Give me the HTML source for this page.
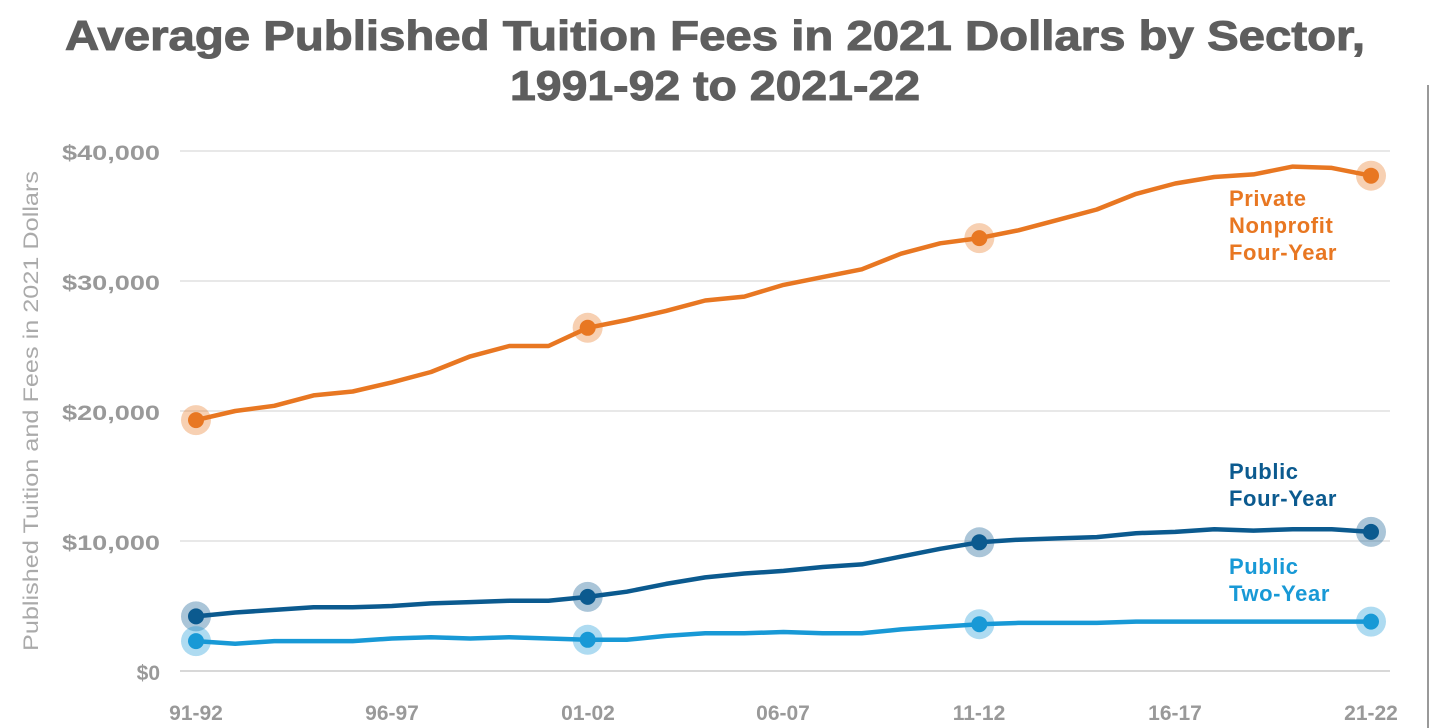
<!DOCTYPE html>
<html><head><meta charset="utf-8"><style>
html,body{margin:0;padding:0;background:#fff;width:1430px;height:728px;overflow:hidden}
svg{display:block;font-family:"Liberation Sans",sans-serif}
</style></head><body>
<svg id="c" width="1430" height="728" viewBox="0 0 1430 728">
<text x="65" y="50" textLength="1300" lengthAdjust="spacingAndGlyphs" font-size="42" font-weight="bold" fill="#5e5e5e" stroke="#5e5e5e" stroke-width="1">Average Published Tuition Fees in 2021 Dollars by Sector,</text>
<text x="510" y="100" textLength="410" lengthAdjust="spacingAndGlyphs" font-size="42" font-weight="bold" fill="#5e5e5e" stroke="#5e5e5e" stroke-width="1">1991-92 to 2021-22</text>
<g stroke="#e8e8e8" stroke-width="2">
<line x1="180" x2="1390" y1="151" y2="151"/><line x1="180" x2="1390" y1="281" y2="281"/>
<line x1="180" x2="1390" y1="411" y2="411"/><line x1="180" x2="1390" y1="541" y2="541"/>
</g>
<line x1="180" x2="1390" y1="671" y2="671" stroke="#d8d8d8" stroke-width="2"/>
<line x1="1428" x2="1428" y1="85" y2="728" stroke="#999" stroke-width="2"/>
<g font-size="21" font-weight="bold" fill="#999">
<text x="62" y="160" textLength="98" lengthAdjust="spacingAndGlyphs">$40,000</text>
<text x="62" y="290" textLength="98" lengthAdjust="spacingAndGlyphs">$30,000</text>
<text x="62" y="420" textLength="98" lengthAdjust="spacingAndGlyphs">$20,000</text>
<text x="62" y="550" textLength="98" lengthAdjust="spacingAndGlyphs">$10,000</text>
<text x="160" y="680" text-anchor="end">$0</text>
</g>
<g font-size="21" font-weight="bold" fill="#999" text-anchor="middle">
<text x="196" y="720">91-92</text><text x="392" y="720">96-97</text><text x="588" y="720">01-02</text><text x="783" y="720">06-07</text><text x="979" y="720">11-12</text><text x="1175" y="720">16-17</text><text x="1371" y="720">21-22</text>
</g>
<text transform="translate(38,411) rotate(-90)" x="-240" y="0" textLength="480" lengthAdjust="spacingAndGlyphs" font-size="21" fill="#aaa">Published Tuition and Fees in 2021 Dollars</text>
<g font-size="22" font-weight="bold" letter-spacing="0.6">
<text x="1229" y="206" fill="#e87722">Private</text><text x="1229" y="233" fill="#e87722">Nonprofit</text><text x="1229" y="260" fill="#e87722">Four-Year</text>
<text x="1229" y="479" fill="#0b5a8f">Public</text><text x="1229" y="506" fill="#0b5a8f">Four-Year</text>
<text x="1229" y="574" fill="#1899d6">Public</text><text x="1229" y="601" fill="#1899d6">Two-Year</text>
</g>
<g id="s"></g>
</svg>
<script>
var P=[19300,20000,20400,21200,21500,22200,23000,24200,25000,25000,26400,27000,27700,28500,28800,29700,30300,30900,32100,32900,33300,33900,34700,35500,36700,37500,38000,38200,38800,38700,38100];
var F=[4200,4500,4700,4900,4900,5000,5200,5300,5400,5400,5700,6100,6700,7200,7500,7700,8000,8200,8800,9400,9900,10100,10200,10300,10600,10700,10900,10800,10900,10900,10700];
var T=[2300,2100,2300,2300,2300,2500,2600,2500,2600,2500,2400,2400,2700,2900,2900,3000,2900,2900,3200,3400,3600,3700,3700,3700,3800,3800,3800,3800,3800,3800,3800];
var g=document.getElementById('s'),h='';
function X(i){return 196+i*1175/30}function Y(v){return 671-v*0.013}
[[P,'#e87722'],[F,'#0b5a8f'],[T,'#1899d6']].forEach(function(d){
var pts=d[0].map(function(v,i){return X(i).toFixed(1)+','+Y(v).toFixed(1)}).join(' ');
h+='<polyline points="'+pts+'" fill="none" stroke="'+d[1]+'" stroke-width="4.5" stroke-linejoin="round"/>';
[0,10,20,30].forEach(function(i){h+='<circle cx="'+X(i)+'" cy="'+Y(d[0][i])+'" r="15" fill="'+d[1]+'" opacity="0.35"/><circle cx="'+X(i)+'" cy="'+Y(d[0][i])+'" r="8" fill="'+d[1]+'"/>';});
});
g.innerHTML=h;
</script>
</body></html>
